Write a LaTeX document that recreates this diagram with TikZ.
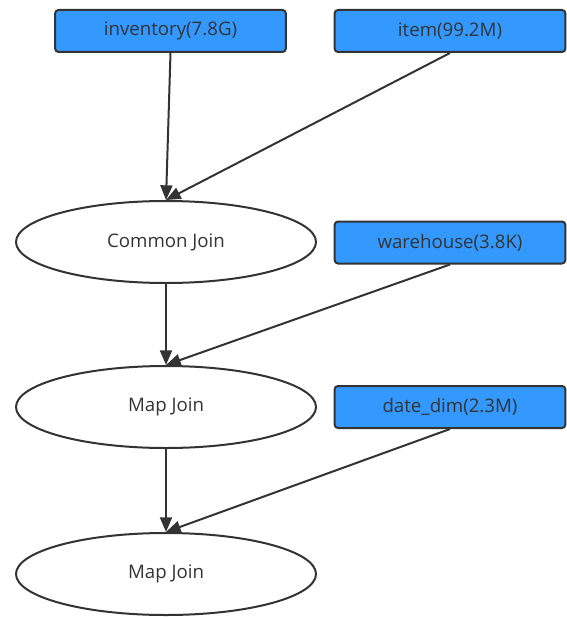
\documentclass[tikz,border=0pt]{standalone}
\usepackage{fontspec}
\setmainfont{Open Sans}
\usetikzlibrary{shapes.geometric,arrows.meta}
\definecolor{tablefill}{HTML}{3399FF}
\definecolor{edgegray}{HTML}{333333}
\tikzset{
    tablebox/.style={draw=edgegray,line width=1.5pt,fill=tablefill,rounded corners=2.5pt,
        minimum width=173pt,minimum height=31.5pt,inner sep=0pt,text=edgegray,font=\fontsize{14}{16}\selectfont},
    joinop/.style={draw=edgegray,line width=1.5pt,ellipse,minimum width=225pt,minimum height=61.5pt,
        inner sep=0pt,text=edgegray,font=\fontsize{14}{16}\selectfont},
    flow/.style={draw=edgegray,line width=1.5pt,-{Triangle[length=11pt,width=9pt]}},
}
\begin{document}
\begin{tikzpicture}[x=0.75pt,y=-0.75pt]
    \useasboundingbox (0,0) rectangle (567,617);
    % input tables
    \node[tablebox] (inventory) at (170.5,31) {inventory(7.8G)};
    \node[tablebox] (item) at (450,31) {item(99.2M)};
    \node[tablebox] (warehouse) at (450,242.5) {warehouse(3.8K)};
    \node[tablebox] (datedim) at (450,407) {date\_dim(2.3M)};
    % joins
    \node[joinop] (common) at (166,242) {Common Join};
    \node[joinop] (mapa) at (166,407) {Map Join};
    \node[joinop] (mapb) at (166,574) {Map Join};
    % edges
    \draw[flow] (inventory.south) -- (common.north);
    \draw[flow] (item.south) -- (common.north);
    \draw[flow] (common.south) -- (mapa.north);
    \draw[flow] (warehouse.south) -- (mapa.north);
    \draw[flow] (mapa.south) -- (mapb.north);
    \draw[flow] (datedim.south) -- (mapb.north);
\end{tikzpicture}
\end{document}
